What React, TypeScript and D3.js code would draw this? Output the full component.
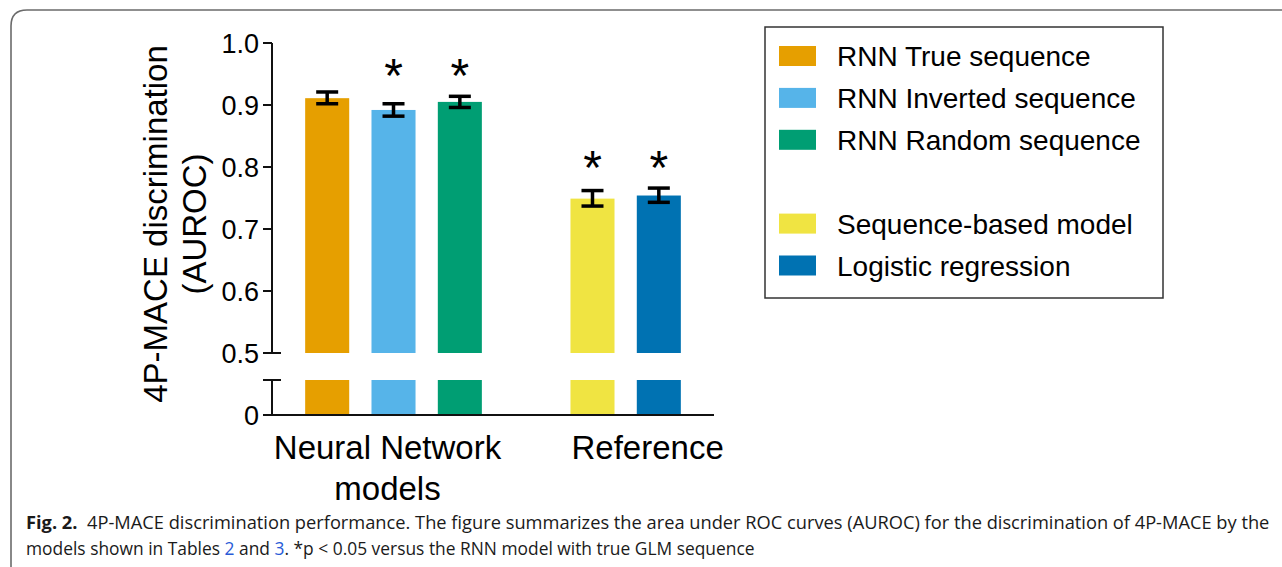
import React, { useLayoutEffect, useRef, useState } from 'react';
import * as d3 from 'd3';

// bar data (AUROC)
const categories = ['RNN True sequence', 'RNN Inverted sequence', 'RNN Random sequence', 'Sequence-based model', 'Logistic regression'];
const groupOf = [0, 0, 0, 1, 1];
const groupLabels = [['Neural Network', 'models'], ['Reference']];
const aurocMean = [0.911, 0.892, 0.905, 0.749, 0.754];
const aurocLow = [0.902, 0.882, 0.896, 0.737, 0.743];
const aurocHigh = [0.921, 0.902, 0.914, 0.762, 0.766];
const significant = [false, true, true, true, true];
const barColors = ['#E69F00', '#56B4E9', '#009E73', '#F0E442', '#0072B2'];
const yTicks = [0.5, 0.6, 0.7, 0.8, 0.9, 1.0];
const lowTicks = [0];

const W = 1282;
const H = 567;
const FONT = '"Liberation Sans", Arial, Helvetica, sans-serif';
const CAPTION_FONT = '"Open Sans", "Noto Sans", sans-serif';
const captionWidths = [1244, 729];

// one empty slot between the two groups
const slots = [...categories.slice(0, 3), '__gap', ...categories.slice(3)];

const App: React.FC = () => {
    const cap1 = useRef<SVGTextElement>(null);
    const cap2 = useRef<SVGTextElement>(null);
    const [capScale, setCapScale] = useState([1, 1]);

    // squeeze the caption lines horizontally to the width of the condensed original
    useLayoutEffect(() => {
        const s = [cap1, cap2].map((r, k) => {
            const len = r.current ? r.current.getComputedTextLength() : 0;
            return len > 0 ? captionWidths[k] / len : 1;
        });
        setCapScale(s);
    }, []);

    const x = d3.scaleBand<string>()
        .domain(slots)
        .range([272, 714])
        .paddingInner(0.336)
        .paddingOuter(0.5);

    const y = d3.scaleLinear().domain([0.5, 1.0]).range([353, 43]);
    const yLow = d3.scaleLinear().domain([0, 0.5]).range([415, 380]);
    const fmt = d3.format('.1f');

    const axisX = x.range()[0];
    const bw = x.bandwidth();
    const cx = (i: number) => (x(categories[i]) as number) + bw / 2;

    // group centres
    const groupCenter = (g: number) => {
        const idx = categories.map((_, i) => i).filter(i => groupOf[i] === g);
        return d3.mean(idx.map(cx)) as number;
    };
    const groupLabelShift = [-6, 22];

    // asterisk height: above the highest starred error bar in each group
    const starY = (g: number) => {
        const tops = categories.map((_, i) => i).filter(i => groupOf[i] === g && significant[i]).map(i => aurocHigh[i]);
        return y(d3.max(tops) as number) - 32;
    };
    const starSize = 48;

    // legend
    const legendRows = [0, 1, 2, 4, 5];
    const legendY = d3.scaleLinear().domain([0, 5]).range([56, 265.5]);

    return (
        <svg width={W} height={H} style={{ position: 'absolute', left: 0, top: 0, background: '#fff' }}>
            {/* frame */}
            <path d="M11,567 V26 Q11,10 27,10 H1282" fill="none" stroke="#6b6b6b" strokeWidth={1.6} />

            {/* y axis title */}
            <g transform={`translate(167, ${(y(0.75) + 26)}) rotate(-90)`} fontFamily={FONT} fontSize={33} textAnchor="middle" fill="#000">
                <text x={0} y={0}>4P-MACE discrimination</text>
                <text x={0} y={39}>(AUROC)</text>
            </g>

            {/* upper axis */}
            <g stroke="#111" strokeWidth={2}>
                <line x1={axisX} x2={axisX} y1={y(1.0)} y2={y(0.5)} />
                {yTicks.map(t => (
                    <line key={t} x1={axisX - 9} x2={t === 0.5 ? axisX + 9 : axisX} y1={y(t)} y2={y(t)} />
                ))}
                {/* lower axis */}
                <line x1={axisX} x2={axisX} y1={yLow(0.5)} y2={yLow(0)} />
                <line x1={axisX - 9} x2={axisX + 9} y1={yLow(0.5)} y2={yLow(0.5)} />
                <line x1={axisX - 9} x2={x.range()[1]} y1={yLow(0)} y2={yLow(0)} />
            </g>
            <g fontFamily={FONT} fontSize={27} textAnchor="end" fill="#000">
                {yTicks.map(t => (
                    <text key={t} x={axisX - 13} y={y(t) + 10}>{fmt(t)}</text>
                ))}
                {lowTicks.map(t => (
                    <text key={t} x={axisX - 13} y={yLow(t) + 10}>{t}</text>
                ))}
            </g>

            {/* bars */}
            {categories.map((c, i) => (
                <g key={c} fill={barColors[i]}>
                    <rect x={x(c)} width={bw} y={y(aurocMean[i])} height={y(0.5) - y(aurocMean[i])} />
                    <rect x={x(c)} width={bw} y={yLow(Math.min(aurocMean[i], 0.5))} height={yLow(0) - yLow(Math.min(aurocMean[i], 0.5)) - 1} />
                </g>
            ))}

            {/* error bars */}
            <g stroke="#000" strokeWidth={3.5} fill="none">
                {categories.map((c, i) => (
                    <g key={c}>
                        <line x1={cx(i)} x2={cx(i)} y1={y(aurocLow[i])} y2={y(aurocHigh[i])} />
                        <line x1={cx(i) - 11} x2={cx(i) + 11} y1={y(aurocLow[i])} y2={y(aurocLow[i])} />
                        <line x1={cx(i) - 11} x2={cx(i) + 11} y1={y(aurocHigh[i])} y2={y(aurocHigh[i])} />
                    </g>
                ))}
            </g>

            {/* significance stars */}
            <g fontFamily={FONT} fontSize={starSize} textAnchor="middle" fill="#000">
                {categories.map((c, i) => significant[i] ? (
                    <text key={c} x={cx(i)} y={starY(groupOf[i]) + starSize * 0.58}>*</text>
                ) : null)}
            </g>

            {/* group labels */}
            <g fontFamily={FONT} fontSize={33} textAnchor="middle" fill="#000">
                {groupLabels.map((lines, g) => (
                    <text key={g} x={groupCenter(g) + groupLabelShift[g]} y={459}>
                        {lines.map((l, k) => (
                            <tspan key={k} x={groupCenter(g) + groupLabelShift[g]} dy={k === 0 ? 0 : 41}>{l}</tspan>
                        ))}
                    </text>
                ))}
            </g>

            {/* legend */}
            <rect x={765} y={27} width={398} height={271} fill="#fff" stroke="#333" strokeWidth={1.5} />
            {categories.map((c, i) => (
                <g key={c} transform={`translate(779, ${legendY(legendRows[i])})`}>
                    <rect x={0} y={-10} width={37} height={20} fill={barColors[i]} />
                    <text x={58} y={10} fontFamily={FONT} fontSize={28} fill="#000">{c}</text>
                </g>
            ))}

            {/* caption */}
            <g fontFamily={CAPTION_FONT} fontSize={18} fill="#1a1a1a">
                <g transform={`translate(26, 529) scale(${capScale[0]}, 1)`}>
                    <text ref={cap1} x={0} y={0}>
                        <tspan fontWeight="bold">Fig. 2.</tspan>
                        <tspan>{'\u00a0\u00a04P-MACE discrimination performance. The figure summarizes the area under ROC curves (AUROC) for the discrimination of 4P-MACE by the'}</tspan>
                    </text>
                </g>
                <g transform={`translate(26, 555) scale(${capScale[1]}, 1)`}>
                    <text ref={cap2} x={0} y={0}>
                        <tspan>{'models shown in Tables '}</tspan>
                        <tspan fill="#2a5bd7">2</tspan>
                        <tspan>{' and '}</tspan>
                        <tspan fill="#2a5bd7">3</tspan>
                        <tspan>{'. *p < 0.05 versus the RNN model with true GLM sequence'}</tspan>
                    </text>
                </g>
            </g>
        </svg>
    );
};

export default App;
